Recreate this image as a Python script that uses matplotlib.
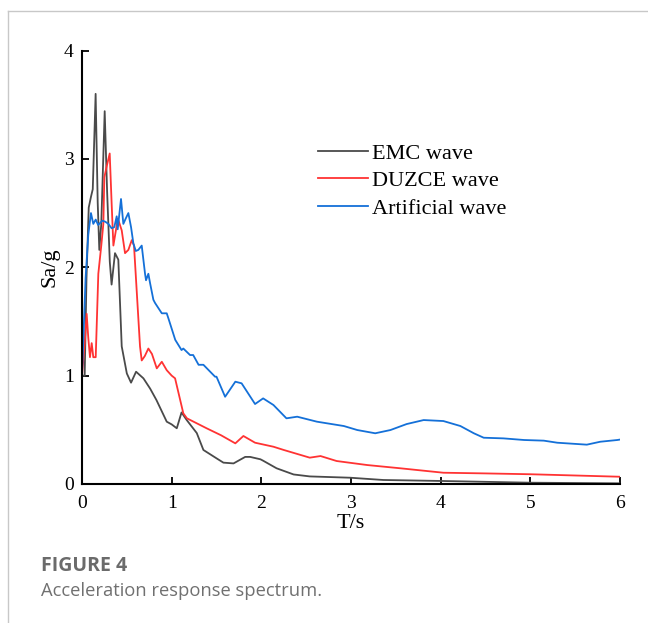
import matplotlib
matplotlib.use("Agg")
import matplotlib.pyplot as plt
from matplotlib.lines import Line2D

# ---- data ----
emc_T = [0, 0.03, 0.05, 0.075, 0.1, 0.12, 0.152, 0.175, 0.193, 0.215, 0.253, 0.28, 0.31, 0.33,
         0.368, 0.405, 0.443, 0.5, 0.547, 0.603, 0.685, 0.76, 0.83, 0.945, 1.0, 1.057, 1.11,
         1.168, 1.28, 1.354, 1.5, 1.577, 1.69, 1.82, 1.875, 1.99, 2.02, 2.17, 2.36, 2.54,
         2.99, 3.36, 4.0, 5.0, 6.0]
emc_Sa = [1.0, 1.0, 1.9, 2.55, 2.65, 2.72, 3.60, 2.6, 2.16, 2.4, 3.44, 2.7, 2.05, 1.84,
          2.13, 2.07, 1.27, 1.02, 0.935, 1.036, 0.975, 0.88, 0.775, 0.575, 0.55, 0.514, 0.66,
          0.59, 0.47, 0.314, 0.237, 0.197, 0.19, 0.25, 0.25, 0.228, 0.215, 0.145, 0.088, 0.07,
          0.058, 0.037, 0.028, 0.012, 0.006]

duz_T = [0, 0.03, 0.052, 0.07, 0.089, 0.108, 0.126, 0.153, 0.182, 0.215, 0.238, 0.249, 0.275,
         0.309, 0.33, 0.35, 0.40, 0.443, 0.48, 0.517, 0.555, 0.58, 0.647, 0.666, 0.70, 0.74,
         0.78, 0.834, 0.89, 0.945, 1.0, 1.038, 1.13, 1.17, 1.39, 1.55, 1.71, 1.80, 1.93, 2.135,
         2.25, 2.54, 2.66, 2.84, 3.18, 3.55, 4.03, 4.48, 5.0, 6.0]
duz_Sa = [1.0, 1.3, 1.57, 1.35, 1.17, 1.30, 1.17, 1.17, 1.94, 2.2, 2.4, 2.83, 2.93,
          3.05, 2.6, 2.2, 2.45, 2.34, 2.13, 2.16, 2.25, 2.2, 1.27, 1.14, 1.18, 1.25,
          1.2, 1.067, 1.128, 1.05, 1.0, 0.975, 0.652, 0.606, 0.514, 0.45, 0.375, 0.443, 0.381, 0.344,
          0.314, 0.243, 0.258, 0.212, 0.175, 0.145, 0.104, 0.098, 0.09, 0.067]

art_T = [0, 0.04, 0.07, 0.1, 0.126, 0.153, 0.18, 0.227, 0.26, 0.294, 0.33, 0.36, 0.387, 0.398,
         0.435, 0.461, 0.488, 0.517, 0.547, 0.573, 0.60, 0.628, 0.666, 0.703, 0.714, 0.74, 0.76,
         0.796, 0.815, 0.89, 0.945, 0.963, 1.04, 1.11, 1.13, 1.205, 1.24, 1.30, 1.354, 1.484,
         1.50, 1.596, 1.71, 1.78, 1.93, 2.02, 2.135, 2.28, 2.40, 2.62, 2.92, 3.07, 3.27, 3.44,
         3.62, 3.81, 4.03, 4.22, 4.37, 4.48, 4.70, 4.93, 5.15, 5.30, 5.63, 5.78, 5.97, 6.0]
art_Sa = [1.0, 1.9, 2.3, 2.5, 2.40, 2.44, 2.39, 2.43, 2.42, 2.40, 2.36, 2.37, 2.47, 2.35,
          2.63, 2.40, 2.45, 2.50, 2.37, 2.22, 2.15, 2.16, 2.2, 1.94, 1.88, 1.94, 1.85,
          1.70, 1.67, 1.575, 1.575, 1.53, 1.33, 1.236, 1.25, 1.19, 1.19, 1.10, 1.10, 0.99,
          0.99, 0.805, 0.944, 0.929, 0.738, 0.79, 0.729, 0.606, 0.621, 0.575, 0.535, 0.498, 0.468, 0.498,
          0.553, 0.59, 0.581, 0.535, 0.468, 0.427, 0.421, 0.406, 0.40, 0.381, 0.363, 0.39, 0.406, 0.41]

series_names = ["EMC wave", "DUZCE wave", "Artificial wave"]
x_ticks = [0, 1, 2, 3, 4, 5, 6]
y_ticks = [0, 1, 2, 3, 4]

colors = ["#4a4a4a", "#ff3333", "#1470d8"]
plt.rcParams["font.family"] = ["Liberation Serif", "DejaVu Serif"]

fig = plt.figure(figsize=(6.48, 6.23), dpi=100)

# panel frame (light grey border at top and left)
fig.add_artist(Line2D([8/648, 1.0], [1 - 11/623, 1 - 11/623], color="#c8c8c8", lw=1.0))
fig.add_artist(Line2D([8/648, 8/648], [0.0, 1 - 11/623], color="#c8c8c8", lw=1.0))

ax = fig.add_axes([82/648, 1 - 484/623, (620 - 82)/648, (484 - 50.5)/623])
for T, S, c, n in zip([emc_T, duz_T, art_T], [emc_Sa, duz_Sa, art_Sa], colors, series_names):
    ax.plot(T, S, color=c, lw=1.3, label=n)

ax.set_xlim(0, 6)
ax.set_ylim(0, 4)
ax.set_xticks(x_ticks)
ax.set_yticks(y_ticks)
ax.spines["top"].set_visible(False)
ax.spines["right"].set_visible(False)
for s in ("left", "bottom"):
    ax.spines[s].set_linewidth(1.5)
ax.tick_params(direction="in", length=5, width=1.3, labelsize=14)
ax.tick_params(axis="x", pad=8)
ax.tick_params(axis="y", pad=6)
ax.set_xlabel("T/s", fontsize=16, labelpad=1)
ax.set_ylabel("Sa/g", fontsize=16, labelpad=3)

leg = ax.legend(loc="upper left", bbox_to_anchor=(0.422, 0.807), frameon=False,
                prop={"size": 16}, handlelength=2.25, handletextpad=0.2,
                labelspacing=0.32, borderaxespad=0)

fig.text(41/648, 1 - 566/623, "FIGURE 4", fontfamily="Open Sans", fontweight="bold",
         fontsize=14, color="#6b6b6b", va="center", ha="left")
fig.text(41/648, 1 - 591/623, "Acceleration response spectrum.", fontfamily="Open Sans",
         fontsize=13.2, color="#707070", va="center", ha="left")

fig.savefig("out.png", dpi=100)
